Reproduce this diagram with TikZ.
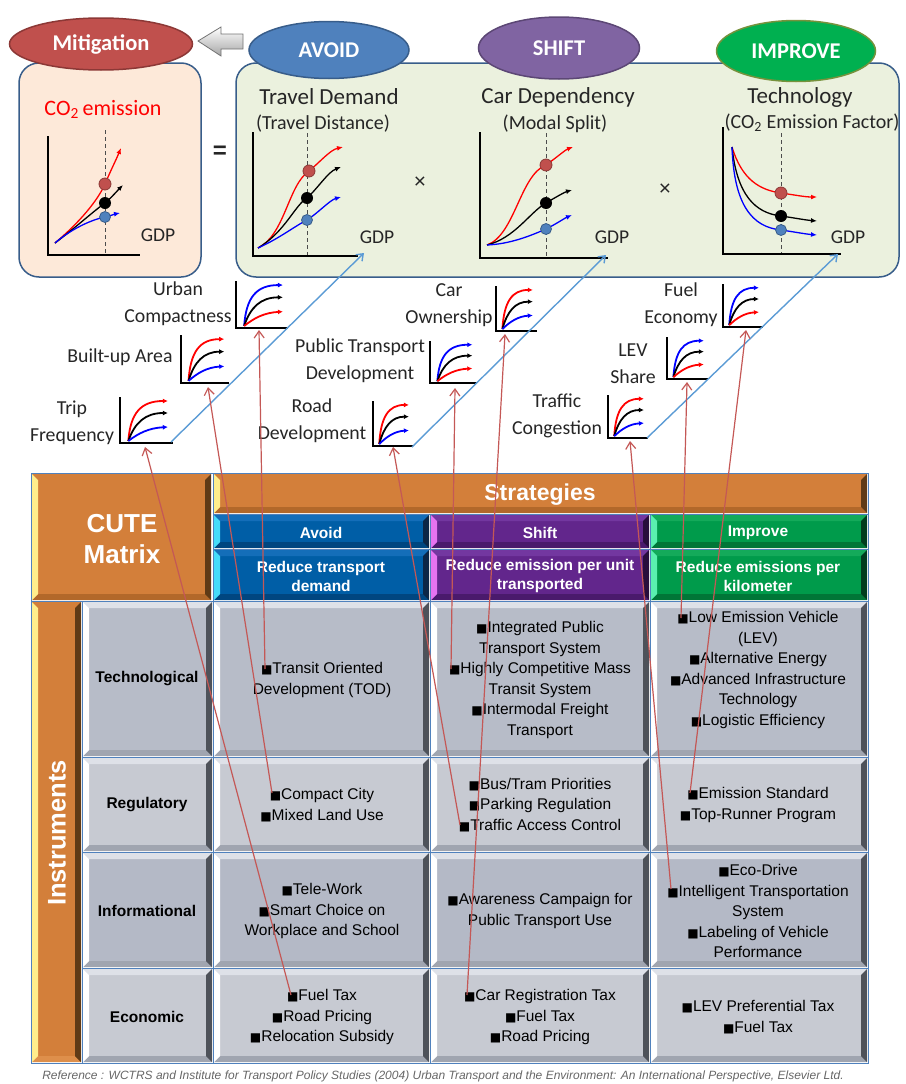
\documentclass[tikz,border=0pt]{standalone}
\usepackage{fontspec}
\setmainfont{Liberation Sans}
\newfontfamily\calib{Carlito}
\newfontfamily\dvs{DejaVu Sans}
\usetikzlibrary{arrows.meta,shapes.geometric}
\definecolor{mitF}{RGB}{192,80,77}
\definecolor{mitD}{RGB}{140,56,54}
\definecolor{avF}{RGB}{79,129,189}
\definecolor{avD}{RGB}{56,93,138}
\definecolor{shF}{RGB}{128,100,162}
\definecolor{shD}{RGB}{92,71,117}
\definecolor{imF}{RGB}{0,176,80}
\definecolor{imD}{RGB}{118,146,60}
\definecolor{boxD}{RGB}{56,93,138}
\definecolor{pinkF}{RGB}{253,233,217}
\definecolor{greenF}{RGB}{235,241,222}
\definecolor{txt}{RGB}{38,38,38}
\definecolor{redc}{RGB}{196,88,86}
\definecolor{bluec}{RGB}{91,155,213}
\definecolor{cRed}{RGB}{255,0,0}
\definecolor{cBlue}{RGB}{0,0,255}
\definecolor{gridc}{RGB}{79,129,189}
\definecolor{orF}{RGB}{211,127,58}
\definecolor{orT}{RGB}{222,143,75}
\definecolor{orL}{RGB}{255,238,140}
\definecolor{orR}{RGB}{95,58,22}
\definecolor{orB}{RGB}{178,104,42}
\definecolor{avhF}{RGB}{0,94,166}
\definecolor{avhT}{RGB}{20,110,185}
\definecolor{avhL}{RGB}{70,220,250}
\definecolor{avhR}{RGB}{12,38,70}
\definecolor{avhB}{RGB}{0,70,128}
\definecolor{shhF}{RGB}{98,38,140}
\definecolor{shhT}{RGB}{115,55,160}
\definecolor{shhL}{RGB}{230,115,240}
\definecolor{shhR}{RGB}{40,14,60}
\definecolor{shhB}{RGB}{74,26,108}
\definecolor{imhF}{RGB}{0,155,75}
\definecolor{imhT}{RGB}{20,170,90}
\definecolor{imhL}{RGB}{90,240,175}
\definecolor{imhR}{RGB}{0,60,30}
\definecolor{imhB}{RGB}{0,118,55}
\definecolor{gT}{RGB}{183,188,200}
\definecolor{gR}{RGB}{199,202,210}
\definecolor{gI}{RGB}{180,185,198}
\definecolor{gLight}{RGB}{222,225,232}
\definecolor{gDark}{RGB}{78,82,90}
\definecolor{gBot}{RGB}{160,165,176}
\newcommand\fs[2]{\fontsize{#1}{#2}\selectfont}
\newcommand\bl{{\dvs\fontsize{12}{12}\selectfont■}}
% bevelled box: x1 y1 x2 y2 fill top left right bottom
\newcommand\bev[9]{%
  \fill[fill=#5] (#1,#2) rectangle (#3,#4);
  \fill[fill=#6] (#1,#2) -- (#3,#2) -- ({#3-6},{#2+6}) -- ({#1+6},{#2+6}) -- cycle;
  \fill[fill=#9] (#1,#4) -- (#3,#4) -- ({#3-6},{#4-6}) -- ({#1+6},{#4-6}) -- cycle;
  \fill[fill=#7] (#1,#2) -- ({#1+6},{#2+6}) -- ({#1+6},{#4-6}) -- (#1,#4) -- cycle;
  \fill[fill=#8] (#3,#2) -- (#3,#4) -- ({#3-6},{#4-6}) -- ({#3-6},{#2+6}) -- cycle;}
% mini chart: name x0 y0 w h type(1 red top, 2 blue top)
\newcommand\minichart[6]{%
  \begin{scope}[shift={(#2,#3)},xscale={#4/50},yscale={#5/45}]
    \coordinate (#1) at (0,0);
    \ifnum#6=1 \def\ctop{cRed}\def\cbot{cBlue}\else\def\ctop{cBlue}\def\cbot{cRed}\fi
    \draw[mcur,draw=\ctop] (8,-2) .. controls (10,-30) and (20,-42) .. (46,-42);
    \draw[mcur,draw=black] (8,-2) .. controls (14,-20) and (24,-30) .. (46,-30);
    \draw[mcur,draw=\cbot] (8,-2) .. controls (18,-10) and (28,-15) .. (46,-16);
    \draw[axl] (0,-45) -- (0,0) -- (50,0);
  \end{scope}}
\begin{document}
\begin{tikzpicture}[x=1pt,y=-1pt,
  axl/.style={line width=1.5pt,black,line cap=rect},
  dashv/.style={line width=0.8pt,black!70,dash pattern=on 4pt off 3pt},
  mcur/.style={line width=1.8pt,-{Latex[length=5pt,width=5pt]}},
  tcur/.style={line width=1.3pt,-{Latex[length=6pt,width=5pt]}},
  dotR/.style={circle,fill=mitF,draw=mitD,line width=0.8pt,minimum size=12pt,inner sep=0pt},
  dotK/.style={circle,fill=black,minimum size=12pt,inner sep=0pt},
  dotB/.style={circle,fill=avF,draw=avD,line width=0.8pt,minimum size=11pt,inner sep=0pt},
  ell/.style={ellipse,line width=1.5pt,text=white,font=\calib\bfseries\fs{22.5}{22.5},inner sep=0pt},
  bigbox/.style={draw=boxD,line width=1.5pt,rounded corners=20pt,inner sep=0pt},
  ttl/.style={font=\calib\fs{23}{23},text=txt,inner sep=0pt},
  sub/.style={font=\calib\fs{20}{20},text=txt,inner sep=0pt},
  gdp/.style={font=\calib\fs{19.5}{19.5},text=txt,inner sep=0pt},
  mlab/.style={font=\calib\fs{19.8}{27},text=txt,align=center,inner sep=0pt},
  hdr/.style={font=\bfseries\fs{15.5}{19},text=white,align=center,inner sep=0pt},
  celltxt/.style={font=\fs{15.5}{20.5},text=black,align=center,inner sep=0pt},
  rowlab/.style={font=\bfseries\fs{15.5}{17},text=black,inner sep=0pt},
  redcon/.style={draw=redc,line width=1.2pt,-{Straight Barb[length=7pt,width=10pt]}},
  bluecon/.style={draw=bluec,line width=1.4pt,-{Straight Barb[length=6pt,width=9pt]}}]
\useasboundingbox (0,0) rectangle (905,1084);

% ---------- top boxes ----------
\node[bigbox,fill=pinkF,minimum width=182pt,minimum height=214pt] (co2box) at (110,170) {};
\node[bigbox,fill=greenF,minimum width=663pt,minimum height=214pt] (facbox) at (567.5,170) {};

\node[ell,fill=mitF,draw=mitD,minimum width=183pt,minimum height=52pt] (mit) at (101,44) {Mitigation};
\node[ell,fill=avF,draw=avD,minimum width=160pt,minimum height=57pt] (avoid) at (329,50) {AVOID};
\node[ell,fill=shF,draw=shD,minimum width=161pt,minimum height=62pt] (shift) at (559,48) {SHIFT};
\node[ell,fill=imF,draw=imD,minimum width=159pt,minimum height=61pt] (improve) at (796,51) {IMPROVE};
\shade[top color=white,bottom color=black!35,draw=black!55,line width=0.8pt]
  (198,41) -- (221,27) -- (221,34) -- (243,34) -- (243,49) -- (221,49) -- (221,56) -- cycle;

% ---------- CO2 chart ----------
\node[font=\calib\fs{22}{22},text=cRed,inner sep=0pt] (co2t) at (103,109) {CO\textsubscript{2}\,emission};
\draw[dashv] (105,130) -- (105,255);
\draw[tcur,draw=cRed] (55,243) .. controls (80,222) and (98,200) .. (105,184) .. controls (110,172) and (116,160) .. (121,148);
\draw[tcur,draw=black] (55,243) .. controls (75,228) and (95,210) .. (105,203) .. controls (112,197) and (118,190) .. (123,185);
\draw[tcur,draw=cBlue] (55,243) .. controls (70,230) and (90,220) .. (105,217) .. controls (110,216) and (115,214) .. (120,213);
\draw[axl] (48,137) -- (48,255) -- (139,255);
\node[dotR] (co2r) at (105,184) {};
\node[dotK] (co2k) at (105,203) {};
\node[dotB] (co2b) at (105,217) {};
\node[gdp] (gdp1) at (158,235) {GDP};
\node[font=\fs{24}{24}\bfseries,text=txt,inner sep=0pt] (eq) at (220,152) {=};

% ---------- Travel demand chart ----------
\node[ttl] (tdt) at (329,97) {Travel Demand};
\node[sub] (tds) at (323,124) {(Travel Distance)};
\draw[dashv] (307,133) -- (307,256);
\draw[tcur,draw=cRed] (258,248) .. controls (285,235) and (288,185) .. (309,171) .. controls (320,162) and (330,150) .. (343,147);
\draw[tcur,draw=black] (258,248) .. controls (285,232) and (295,205) .. (307,198) .. controls (318,188) and (328,172) .. (341,167);
\draw[tcur,draw=cBlue] (258,248) .. controls (280,238) and (295,226) .. (307,220) .. controls (318,213) and (330,200) .. (341,197);
\draw[axl] (253,133) -- (253,256) -- (357,256);
\node[dotR] (tdr) at (309,171) {};
\node[dotK] (tdk) at (307,198) {};
\node[dotB] (tdb) at (307,220) {};
\node[gdp] (gdp2) at (377,237) {GDP};
\node[font=\fs{21}{21},text=txt,inner sep=0pt] (x1) at (420,183) {×};

% ---------- Car dependency chart ----------
\node[ttl] (cdt) at (558,97) {Car Dependency};
\node[sub] (cds) at (555,124) {(Modal Split)};
\draw[dashv] (546,133) -- (546,258);
\draw[tcur,draw=cRed] (487,245) .. controls (515,235) and (520,175) .. (546,165) .. controls (556,158) and (565,150) .. (573,147);
\draw[tcur,draw=black] (487,245) .. controls (515,238) and (530,212) .. (546,203) .. controls (556,197) and (565,192) .. (572,190);
\draw[tcur,draw=cBlue] (487,245) .. controls (510,244) and (530,236) .. (546,229) .. controls (556,224) and (565,218) .. (572,215);
\draw[axl] (480,133) -- (480,258) -- (607,258);
\node[dotR] (cdr) at (546,165) {};
\node[dotK] (cdk) at (546,203) {};
\node[dotB] (cdb) at (546,229) {};
\node[gdp] (gdp3) at (612,237) {GDP};
\node[font=\fs{21}{21},text=txt,inner sep=0pt] (x2) at (665,190) {×};

% ---------- Technology chart ----------
\node[ttl] (tct) at (800,97) {Technology};
\node[sub] (tcs) at (812,123) {(CO\textsubscript{2} Emission Factor)};
\draw[dashv] (781,133) -- (781,254);
\draw[tcur,draw=cRed] (732,147) .. controls (742,180) and (760,190) .. (781,193) .. controls (795,195) and (805,197) .. (817,197);
\draw[tcur,draw=black] (732,147) .. controls (737,195) and (755,213) .. (781,216) .. controls (795,218) and (805,220) .. (817,221);
\draw[tcur,draw=cBlue] (732,147) .. controls (734,205) and (752,227) .. (781,230) .. controls (795,232) and (805,234) .. (817,235);
\draw[axl] (723,128) -- (723,254) -- (840,254);
\node[dotR] (tcr) at (781,193) {};
\node[dotK] (tck) at (781,216) {};
\node[dotB] (tcb) at (781,230) {};
\node[gdp] (gdp4) at (848,237) {GDP};

% ---------- mini charts ----------
\minichart{mUrban}{236}{328}{51}{46}{2}
\minichart{mBuilt}{181}{383}{47}{47}{1}
\minichart{mTrip}{120}{443}{52}{45}{1}
\minichart{mPT}{430}{383}{46}{41}{2}
\minichart{mRoad}{373}{446}{39}{44}{1}
\minichart{mCar}{496}{331}{40}{44}{1}
\minichart{mFuel}{723}{327}{39}{42}{2}
\minichart{mLEV}{667}{379}{40}{41}{2}
\minichart{mTraffic}{608}{438}{39}{42}{1}
\node[mlab] (lUrban) at (178,304) {Urban\\Compactness};
\node[mlab] (lBuilt) at (120,357) {Built-up Area};
\node[mlab] (lTrip) at (72,423) {Trip\\Frequency};
\node[mlab] (lPT) at (360,361) {Public Transport\\Development};
\node[mlab] (lRoad) at (312,421) {Road\\Development};
\node[mlab] (lCar) at (449,305) {Car\\Ownership};
\node[mlab] (lFuel) at (681,305) {Fuel\\Economy};
\node[mlab] (lLEV) at (633,364) {LEV\\Share};
\node[mlab] (lTraffic) at (557,416) {Traffic\\Congestion};

% ---------- blue diagonals ----------
\coordinate (sTrip) at (171,442); \coordinate (eTD) at (364,253);
\coordinate (sRoad) at (412,447); \coordinate (eCD) at (606,255);
\coordinate (sTraf) at (647,438); \coordinate (eTC) at (838,254);
\draw[bluecon] (sTrip) -- (eTD);
\draw[bluecon] (sRoad) -- (eCD);
\draw[bluecon] (sTraf) -- (eTC);

% ---------- matrix ----------
\bev{32}{474}{211}{600}{orF}{orF}{orL}{orR}{orB}
\bev{214}{474}{867}{513}{orF}{orF}{orL}{orR}{orB}
\bev{214}{515}{429}{548}{avhF}{avhT}{avhL}{avhR}{avhB}
\bev{214}{550}{429}{600}{avhF}{avhT}{avhL}{avhR}{avhB}
\bev{431}{515}{649}{548}{shhF}{shhT}{shhL}{shhR}{shhB}
\bev{431}{550}{649}{600}{shhF}{shhT}{shhL}{shhR}{shhB}
\bev{651}{515}{867}{548}{imhF}{imhT}{imhL}{imhR}{imhB}
\bev{651}{550}{867}{600}{imhF}{imhT}{imhL}{imhR}{imhB}
\bev{32}{602}{81}{1062}{orF}{orF}{orL}{orR}{orT}
\foreach \ya/\yb/\c in {602/756/gT,758/851/gR,853/967/gI,969/1062/gR}{
  \foreach \xa/\xb in {83/212,214/429,431/649,651/867}{
    \bev{\xa}{\ya}{\xb}{\yb}{\c}{gLight}{white}{gDark}{gBot}
  }
}
\begin{scope}[draw=gridc,line width=0.9pt]
  \draw (31,473) rectangle (868,1063);
  \draw (213,473) -- (213,1063);
  \draw (430,514) -- (430,1063);
  \draw (650,514) -- (650,1063);
  \draw (82,601) -- (82,1063);
  \draw (213,514) -- (868,514);
  \draw (213,549) -- (868,549);
  \draw (31,601) -- (868,601);
  \draw (82,757) -- (868,757);
  \draw (82,852) -- (868,852);
  \draw (82,968) -- (868,968);
\end{scope}

\node[font=\bfseries\fs{26}{31},text=white,align=center,inner sep=0pt] (cute) at (122,539) {CUTE\\Matrix};
\node[font=\bfseries\fs{23}{23},text=white,inner sep=0pt] (strat) at (540,495) {Strategies};
\node[hdr] (hAvoid) at (321,533) {Avoid};
\node[hdr] (hShift) at (540,533) {Shift};
\node[hdr] (hImprove) at (758,533) {Improve};
\node[hdr] (dAvoid) at (321,576) {Reduce transport\\demand};
\node[hdr] (dShift) at (540,576) {Reduce emission per unit\\transported};
\node[hdr] (dImprove) at (758,576) {Reduce emissions per\\kilometer};
\node[font=\bfseries\fs{25.5}{25.5},text=white,rotate=90,inner sep=0pt] (instr) at (57,833) {Instruments};

\node[rowlab] (rTech) at (147,679) {Technological};
\node[rowlab] (rReg) at (147,805) {Regulatory};
\node[rowlab] (rInfo) at (147,911) {Informational};
\node[rowlab] (rEcon) at (147,1017) {Economic};

\node[celltxt] (c11) at (322,680) {\bl Transit Oriented\\Development (TOD)};
\node[celltxt] (c12) at (540,680) {\bl Integrated Public\\Transport System\\\bl Highly Competitive Mass\\Transit System\\\bl Intermodal Freight\\Transport};
\node[celltxt] (c13) at (758,670) {\bl Low Emission Vehicle\\(LEV)\\\bl Alternative Energy\\\bl Advanced Infrastructure\\Technology\\\bl Logistic Efficiency};
\node[celltxt] (c21) at (322,805) {\bl Compact City\\\bl Mixed Land Use};
\node[celltxt] (c22) at (540,805) {\bl Bus/Tram Priorities\\\bl Parking Regulation\\\bl Traffic Access Control};
\node[celltxt] (c23) at (758,805) {\bl Emission Standard\\\bl Top-Runner Program};
\node[celltxt] (c31) at (322,911) {\bl Tele-Work\\\bl Smart Choice on\\Workplace and School};
\node[celltxt] (c32) at (540,911) {\bl Awareness Campaign for\\Public Transport Use};
\node[celltxt] (c33) at (758,911) {\bl Eco-Drive\\\bl Intelligent Transportation\\System\\\bl Labeling of Vehicle\\Performance};
\node[celltxt] (c41) at (322,1017) {\bl Fuel Tax\\\bl Road Pricing\\\bl Relocation Subsidy};
\node[celltxt] (c42) at (540,1017) {\bl Car Registration Tax\\\bl Fuel Tax\\\bl Road Pricing};
\node[celltxt] (c43) at (758,1017) {\bl LEV Preferential Tax\\\bl Fuel Tax};

\node[font=\fs{12}{14}\itshape,text=black!60,inner sep=0pt] (ref) at (443,1076) {Reference : WCTRS and Institute for Transport Policy Studies (2004) Urban Transport and the Environment: An International Perspective, Elsevier Ltd.};

% ---------- red connectors ----------
\coordinate (tTrip) at (145,447);   \coordinate (bFuelA) at (291,995);
\coordinate (tBuilt) at (208,387);  \coordinate (bCompact) at (272,793);
\coordinate (tUrban) at (259,330);  \coordinate (bTOD) at (265,669);
\coordinate (tRoad) at (393,447);   \coordinate (bTAC) at (460,825);
\coordinate (tPT) at (455,388);     \coordinate (bHCM) at (451,669);
\coordinate (tCar) at (505,334);    \coordinate (bCRT) at (467,995);
\coordinate (tTraffic) at (630,441);\coordinate (bITS) at (671,889);
\coordinate (tLEV) at (687,382);    \coordinate (bLEV) at (681,618);
\coordinate (tFuel) at (746,330);   \coordinate (bES) at (690,793);
\draw[redcon] (bFuelA) -- (tTrip);
\draw[redcon] (bCompact) -- (tBuilt);
\draw[redcon] (bTOD) -- (tUrban);
\draw[redcon] (bTAC) -- (tRoad);
\draw[redcon] (bHCM) -- (tPT);
\draw[redcon] (bCRT) -- (tCar);
\draw[redcon] (bITS) -- (tTraffic);
\draw[redcon] (bLEV) -- (tLEV);
\draw[redcon] (bES) -- (tFuel);
\end{tikzpicture}
\end{document}
